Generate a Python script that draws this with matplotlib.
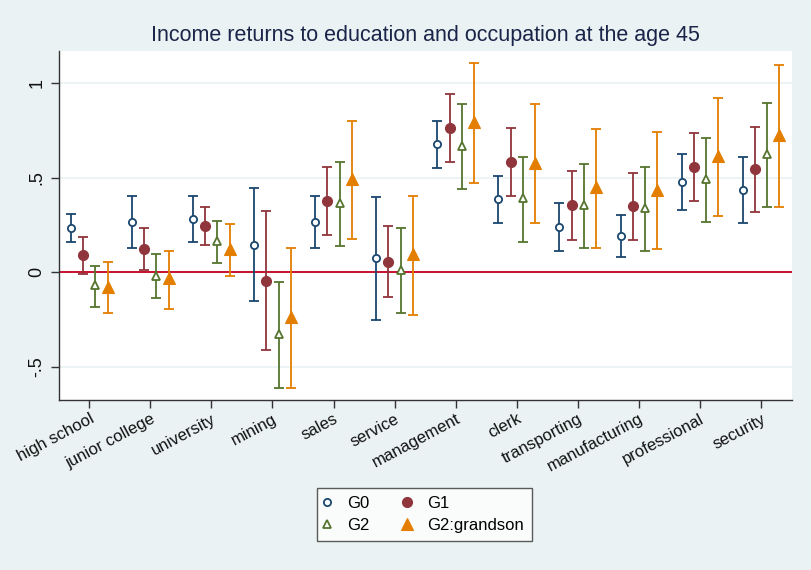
import numpy as np
import matplotlib
matplotlib.use("Agg")
import matplotlib.pyplot as plt

categories = ["high school", "junior college", "university", "mining", "sales", "service",
              "management", "clerk", "transporting", "manufacturing", "professional", "security"]
series = ["G0", "G1", "G2", "G2:grandson"]

g0_est = [0.233, 0.266, 0.283, 0.143, 0.266, 0.074, 0.678, 0.386, 0.241, 0.193, 0.477, 0.436]
g0_lo  = [0.160, 0.128, 0.162, -0.153, 0.128, -0.252, 0.551, 0.259, 0.114, 0.082, 0.327, 0.260]
g0_hi  = [0.307, 0.405, 0.403, 0.444, 0.403, 0.400, 0.799, 0.509, 0.364, 0.303, 0.625, 0.611]

g1_est = [0.090, 0.123, 0.245, -0.044, 0.377, 0.056, 0.762, 0.583, 0.354, 0.350, 0.556, 0.544]
g1_lo  = [-0.007, 0.014, 0.144, -0.410, 0.197, -0.129, 0.583, 0.401, 0.171, 0.171, 0.377, 0.320]
g1_hi  = [0.186, 0.234, 0.347, 0.324, 0.555, 0.245, 0.944, 0.762, 0.535, 0.525, 0.737, 0.766]

g2_est = [-0.069, -0.020, 0.165, -0.326, 0.368, 0.014, 0.667, 0.391, 0.357, 0.340, 0.493, 0.625]
g2_lo  = [-0.182, -0.138, 0.051, -0.611, 0.141, -0.215, 0.438, 0.160, 0.127, 0.113, 0.266, 0.347]
g2_hi  = [0.035, 0.095, 0.271, -0.050, 0.584, 0.236, 0.889, 0.607, 0.574, 0.555, 0.709, 0.894]

g2g_est = [-0.079, -0.032, 0.125, -0.238, 0.493, 0.095, 0.796, 0.579, 0.449, 0.436, 0.613, 0.725]
g2g_lo  = [-0.215, -0.194, -0.020, -0.611, 0.178, -0.227, 0.473, 0.262, 0.130, 0.121, 0.296, 0.347]
g2g_hi  = [0.054, 0.114, 0.257, 0.127, 0.801, 0.405, 1.106, 0.889, 0.755, 0.743, 0.919, 1.095]

yticks = [-0.5, 0, 0.5, 1]
yticklabels = ["-.5", "0", ".5", "1"]

plt.rcParams['font.family'] = ['Liberation Sans', 'DejaVu Sans']

bg = "#eaf2f3"
fig = plt.figure(figsize=(8.11, 5.70), dpi=100, facecolor=bg)
ax = fig.add_axes([0.0724, 0.298, 0.9036, 0.6125])
ax.set_facecolor("white")

colors = ["#1a476f", "#90353b", "#55752f", "#e37e00"]
offsets = [-0.3, -0.1, 0.1, 0.3]
styles = [dict(marker="o", ms=5.2, mfc="white", mew=1.3),
          dict(marker="o", ms=7.2, mfc=None, mew=0.8),
          dict(marker="^", ms=6.4, mfc="white", mew=1.3),
          dict(marker="^", ms=8.5, mfc=None, mew=0.8)]
data = [(g0_est, g0_lo, g0_hi), (g1_est, g1_lo, g1_hi),
        (g2_est, g2_lo, g2_hi), (g2g_est, g2g_lo, g2g_hi)]

x = np.arange(1, len(categories) + 1)
ax.axhline(0, color="#c8102e", lw=1.4, zorder=1)
handles = []
for (est, lo, hi), c, off, st, name in zip(data, colors, offsets, styles, series):
    est = np.array(est); lo = np.array(lo); hi = np.array(hi)
    ax.errorbar(x + off, est, yerr=[est - lo, hi - est], fmt="none", ecolor=c,
                elinewidth=1.3, capsize=3.6, capthick=1.3, zorder=2)
    kw = dict(st)
    mfc = kw.pop("mfc") or c
    h, = ax.plot(x + off, est, linestyle="none", color=c, mfc=mfc, mec=c, zorder=3, label=name, **kw)
    handles.append(h)

ax.set_xlim(0.5, 12.5)
ax.set_ylim(-0.675, 1.169)
ax.set_yticks(yticks)
ax.set_yticklabels(yticklabels, rotation=90, va="center", fontsize=13)
ax.set_xticks(x)
ax.set_xticklabels(categories, rotation=28, ha="right", rotation_mode="anchor", fontsize=12)
ax.grid(axis="y", color=bg, lw=1.2, zorder=0)
ax.set_axisbelow(True)
for s in ["top", "right"]:
    ax.spines[s].set_visible(False)
for s in ["left", "bottom"]:
    ax.spines[s].set_color("#333333")
    ax.spines[s].set_linewidth(1.0)
ax.tick_params(axis="both", length=6, color="#333333", width=1, colors="#111111")
ax.tick_params(axis="x", pad=2)

fig.text(0.524, 0.937, "Income returns to education and occupation at the age 45",
         ha="center", va="center", fontsize=15.5, color="#1a2448")

order = [0, 2, 1, 3]
leg = fig.legend(handles=[handles[i] for i in order], labels=[series[i] for i in order],
                 ncol=2, loc="center", bbox_to_anchor=(0.5235, 0.0974),
                 bbox_transform=fig.transFigure,
                 fontsize=12, frameon=True, fancybox=False, edgecolor="#333333",
                 handlelength=0.3, handletextpad=1.05, columnspacing=2.1,
                 borderpad=0.45, labelspacing=0.45, borderaxespad=0)
leg.get_frame().set_linewidth(1.0)

fig.savefig("out.png", dpi=100, facecolor=bg)
